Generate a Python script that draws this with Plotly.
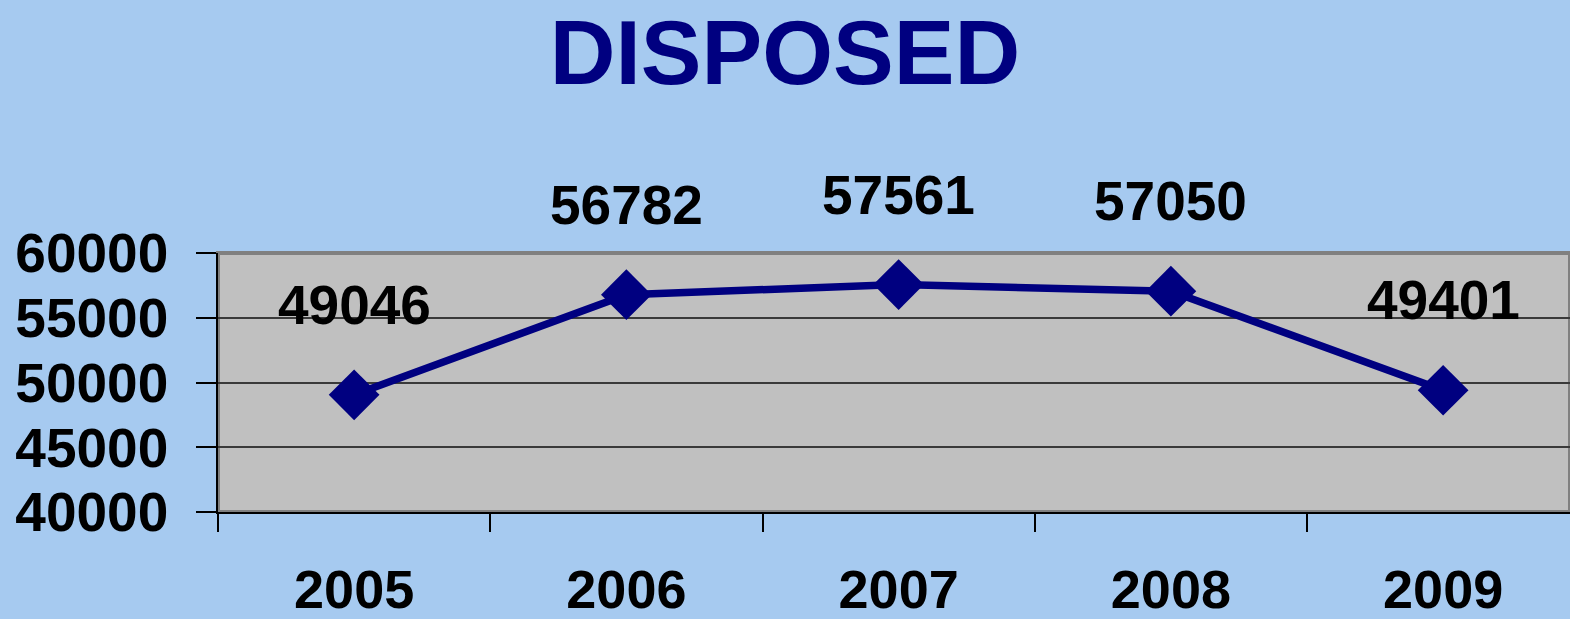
import plotly.graph_objects as go

# Disposed cases per year
years = ["2005", "2006", "2007", "2008", "2009"]
disposed = [49046, 56782, 57561, 57050, 49401]

y_ticks = [40000, 45000, 50000, 55000, 60000]

NAVY = "#000080"
FONT = "Liberation Sans, Arial, sans-serif"

fig = go.Figure()

fig.add_trace(go.Scatter(
    x=years,
    y=disposed,
    mode="lines+markers",
    line=dict(color=NAVY, width=7.5),
    marker=dict(symbol="diamond", size=39, color=NAVY),
    cliponaxis=False,
    hoverinfo="x+y",
))

# value labels above each point (category axis: position by index)
for i, val in enumerate(disposed):
    fig.add_annotation(
        x=i, y=val, text=str(val), showarrow=False,
        yshift=90, font=dict(family=FONT, size=55, color="black", weight="bold"),
    )

# grey frame around the plotting area
fig.add_shape(
    type="rect", xref="x domain", yref="y domain",
    x0=0, x1=1, y0=0, y1=1,
    line=dict(color="#808080", width=4), layer="below",
)

fig.update_layout(
    width=1570, height=619,
    margin=dict(l=218, r=0, t=253, b=107),
    paper_bgcolor="#a6caf0",
    plot_bgcolor="#c0c0c0",
    showlegend=False,
    title=dict(
        text="DISPOSED",
        xref="container", x=0.5, xanchor="center",
        yref="container", y=1 - 52 / 619, yanchor="middle",
        font=dict(family=FONT, size=91, color=NAVY, weight="bold"),
    ),
    xaxis=dict(
        type="category",
        range=[-0.5, 4.466],
        tickson="boundaries",
        ticks="outside", ticklen=18, tickwidth=1.5, tickcolor="black",
        showline=True, linecolor="black", linewidth=1.5,
        showgrid=False,
        automargin=False,
        ticklabelstandoff=29,
        tickfont=dict(family=FONT, size=54, color="black", weight="bold"),
    ),
    yaxis=dict(
        range=[40000, 60000],
        tickvals=y_ticks,
        ticktext=[str(v) for v in y_ticks],
        ticks="outside", ticklen=20, tickwidth=1.5, tickcolor="black",
        showline=True, linecolor="black", linewidth=1.5,
        showgrid=True, gridcolor="#3a3a3a", gridwidth=1.5,
        zeroline=False,
        automargin=False,
        ticklabelstandoff=17,
        tickfont=dict(family=FONT, size=55, color="black", weight="bold"),
    ),
)

fig.write_html("out.html")
